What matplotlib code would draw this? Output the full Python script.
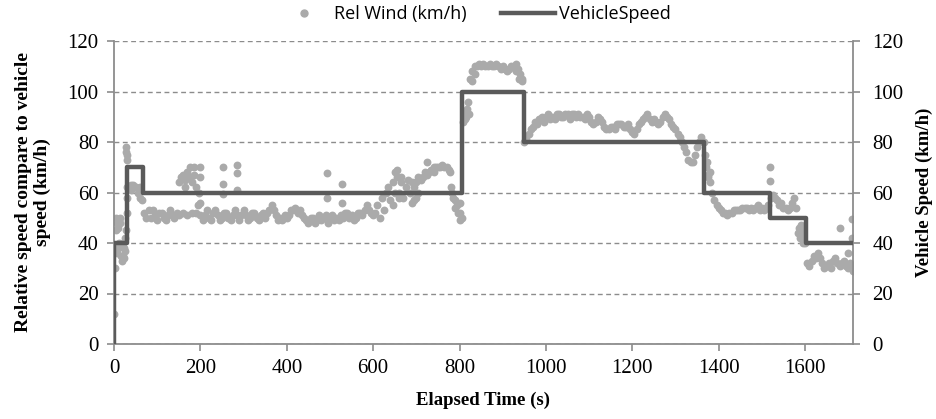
import numpy as np
import matplotlib
matplotlib.use("Agg")
import matplotlib.pyplot as plt
from matplotlib.lines import Line2D

# Rel Wind main trace, one reading every 5 s (rows of 10 = 50 s)
rel_step = 5
rel_wind = [
    12, 45, 38, 48, 35, 42, 75, 62, 61, 63,      # 0
    62, 60, 62, 57, 52, 50, 53, 50, 53, 51,      # 50
    49, 52, 52, 50, 49, 51, 53, 51, 50, 52,      # 100
    64, 66, 67, 65, 68, 66, 64, 67, 52, 55,      # 150
    51, 49, 51, 53, 50, 49, 52, 53, 51, 49,      # 200
    50, 52, 52, 50, 49, 51, 53, 51, 49, 51,      # 250
    53, 51, 49, 50, 52, 52, 50, 49, 51, 52,      # 300
    50, 52, 53, 55, 53, 51, 49, 50, 49, 51,      # 350
    50, 51, 53, 53, 54, 52, 53, 51, 50, 49,      # 400
    48, 50, 50, 48, 49, 51, 49, 50, 51, 48,      # 450
    50, 51, 49, 50, 49, 51, 50, 52, 52, 50,      # 500
    51, 49, 50, 52, 52, 51, 53, 55, 53, 52,      # 550
    51, 52, 55, 50, 58, 53, 60, 62, 57, 64,      # 600
    68, 66, 60, 64, 58, 62, 65, 60, 56, 62,      # 650
    64, 60, 65, 66, 68, 67, 68, 69, 70, 70,      # 700
    70, 70, 71, 70, 70, 69, 62, 58, 57, 55,      # 750
    52, 50, 92, 90, 96, 105, 108, 110, 110, 111, # 800
    110, 111, 110, 110, 111, 110, 110, 111, 110, 109,  # 850
    110, 109, 108, 109, 110, 110, 111, 109, 107, 105,  # 900
    80, 81, 83, 85, 86, 88, 87, 89, 90, 88,      # 950
    90, 91, 89, 90, 89, 91, 91, 90, 90, 91,      # 1000
    91, 89, 91, 91, 90, 91, 90, 90, 89, 91,      # 1050
    90, 88, 87, 88, 90, 89, 88, 86, 85, 85,      # 1100
    86, 86, 85, 87, 87, 87, 86, 86, 87, 85,      # 1150
    84, 83, 85, 87, 88, 89, 90, 91, 89, 88,      # 1200
    89, 88, 87, 88, 90, 91, 90, 89, 87, 86,      # 1250
    85, 83, 82, 80, 78, 76, 73, 72, 72, 75,      # 1300
    78, 80, 82, 80, 70, 67, 64, 60, 57, 55,      # 1350
    54, 53, 52, 52, 51, 52, 52, 53, 53, 53,      # 1400
    53, 54, 54, 54, 53, 54, 53, 54, 55, 53,      # 1450
    54, 53, 54, 55, 58, 59, 58, 57, 55, 56,      # 1500
    54, 54, 53, 54, 56, 58, 54, 46, 43, 41,      # 1550
    40, 32, 31, 33, 35, 34, 36, 34, 32, 30,      # 1600
    31, 32, 30, 33, 34, 32, 31, 32, 33, 31,      # 1650
    30, 32, 31,                                   # 1700
]

# extra scattered readings (time s, value)
extra_t = [3, 5, 7, 8, 10, 12, 14, 16, 18, 20, 22, 24, 26, 27, 28, 28, 29, 29, 30, 31, 40, 60,
           150, 160, 170, 180, 185, 175, 165, 190, 198, 199, 199, 197,
           252, 252, 252, 284, 284, 284, 493, 493, 528, 528,
           645, 650, 655, 660, 665, 690, 695, 700, 705, 725, 740, 778, 782, 790, 797, 802, 800,
           809, 812, 818, 822, 828, 835, 930, 938, 945,
           1368, 1372, 1376, 1380, 1519, 1519,
           1583, 1588, 1592, 1596, 1590,
           1680, 1708, 1708, 1700, 1710]
extra_v = [30, 50, 48, 36, 46, 40, 50, 35, 33, 40, 38, 34, 37, 45, 78, 76, 73, 52, 58, 62, 63, 58,
           51, 52, 51, 52, 70, 70, 62, 62, 66, 70, 56, 60,
           70, 63.5, 59.5, 70.8, 67.7, 61, 67.8, 58, 63.5, 56,
           55, 60, 69, 58, 66, 64, 57, 58, 66, 72, 68, 68, 60, 54, 52, 49, 56,
           88, 89, 93, 91, 104, 107, 108, 105, 104,
           75, 72, 66, 68, 70, 64.5,
           44, 42, 45, 40, 47,
           46, 49.5, 42, 36, 29]

# vehicle speed steps
veh_t = [0, 1, 31, 66, 806, 949, 1366, 1518, 1603, 1711]
veh_speed = [0, 40, 70, 60, 100, 80, 60, 50, 40, 40]

rel_t = np.arange(len(rel_wind)) * rel_step

plt.rcParams['font.family'] = ['Liberation Serif', 'DejaVu Serif']

fig = plt.figure(figsize=(9.36, 4.19), dpi=100)
ax = fig.add_axes([114/936, 1 - 344/419, (853 - 114)/936, (344 - 41)/419])

grid_c = '#8c8c8c'
dot_c = '#aaaaaa'
line_c = '#5a5a5a'
ax.scatter(rel_t, rel_wind, s=32, color=dot_c, linewidths=0, zorder=2)
ax.scatter(extra_t, extra_v, s=32, color=dot_c, linewidths=0, zorder=2)
ax.plot(veh_t, veh_speed, drawstyle='steps-post', color=line_c, lw=3.2, zorder=3)

ax.set_xlim(0, 1711)
ax.set_ylim(0, 120)
ax.set_xticks(range(0, 1601, 200))
ax.set_yticks(range(0, 121, 20))
ax.yaxis.grid(True, linestyle=(0, (3.5, 2.5)), color=grid_c, lw=1.0)
ax.set_axisbelow(True)

for s in ['left', 'bottom', 'right']:
    ax.spines[s].set_color(grid_c)
    ax.spines[s].set_linewidth(1.3)
ax.spines['top'].set_visible(False)
ax.tick_params(axis='both', colors=grid_c, labelcolor='black', labelsize=15, length=5, width=1.2)
ax.tick_params(axis='y', pad=6)
ax.tick_params(axis='x', pad=6)

ax2 = ax.twinx()
ax2.set_ylim(0, 120)
ax2.set_yticks(range(0, 121, 20))
ax2.tick_params(axis='y', colors=grid_c, labelcolor='black', labelsize=15, length=5, width=1.2, pad=9)
for s in ax2.spines.values():
    s.set_visible(False)

ax.set_xlabel('Elapsed Time (s)', fontsize=13.5, fontweight='bold', labelpad=10)
ax.set_ylabel('Relative speed compare to vehicle\nspeed (km/h)', fontsize=14,
              fontweight='bold', labelpad=12, linespacing=1.1)
ax2.set_ylabel('Vehicle Speed (km/h)', fontsize=13.5, fontweight='bold', labelpad=9)

handles = [Line2D([], [], marker='o', ls='', color=dot_c, markersize=5),
           Line2D([], [], color=line_c, lw=3.2)]
fig.legend(handles, ['Rel Wind (km/h)', 'VehicleSpeed'], loc='center',
           bbox_to_anchor=(0.506, 0.967), ncol=2, frameon=False,
           prop={'family': 'Open Sans', 'size': 13}, handlelength=3.0,
           columnspacing=1.9, handletextpad=0.2)

fig.savefig('out.png', dpi=100)
